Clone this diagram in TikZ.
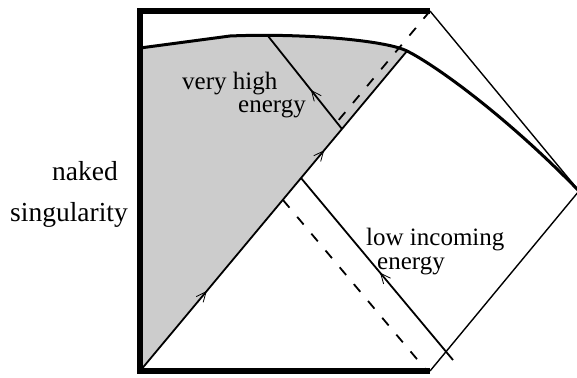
\documentclass[tikz,border=0pt]{standalone}
\usepackage{fontspec}
\setmainfont{Liberation Serif}
\usetikzlibrary{arrows.meta,decorations.markings}
\tikzset{
  frameline/.style={line width=5.5pt, line join=miter},
  edgeline/.style={line width=1.4pt},
  rayline/.style={line width=1.8pt},
  dashline/.style={line width=1.8pt, dash pattern=on 10pt off 12pt},
  curveline/.style={line width=3pt},
  barb/.style={line width=0.8pt},
  lbl/.style={font=\fontsize{25}{27}\selectfont, anchor=base west, inner sep=0pt},
  biglbl/.style={font=\fontsize{27.5}{29}\selectfont, anchor=base west, inner sep=0pt},
}
\begin{document}
\begin{tikzpicture}[x=1pt,y=-1pt]
\useasboundingbox (0,0) rectangle (577,377);
% key points
\coordinate (BL) at (140,371);
\coordinate (TL) at (140,11);
\coordinate (TR) at (430,11);
\coordinate (BR) at (430,371);
\coordinate (R) at (579,191);
\coordinate (D) at (407,51);
\coordinate (C0) at (140,48);
\coordinate (C1) at (230,36);
\coordinate (V1) at (342,129);
\coordinate (V2) at (268,36);
\coordinate (L1) at (301,178);
\coordinate (L2) at (453,360);
\coordinate (DA1) at (337,122);
\coordinate (DB1) at (283,200);
\coordinate (DB2) at (427,371);
% shaded region
\fill[black!20] (BL) -- (D) .. controls (385,40) and (300,33) .. (C1) -- (C0) -- cycle;
% thin outer lines
\draw[edgeline] (TR) -- (R) -- (BR);
% dashed lines
\draw[dashline] (TR) -- (DA1);
\draw[dashline] (DB1) -- (DB2);
% main diagonal
\draw[rayline, postaction={decorate}, decoration={markings,
  mark=at position 0.25 with {\arrow[barb]{Straight Barb[length=10pt,width=9pt]}},
  mark=at position 0.69 with {\arrow[barb]{Straight Barb[length=10pt,width=9pt]}}}]
  (BL) -- (D);
% very high energy ray
\draw[rayline, postaction={decorate}, decoration={markings,
  mark=at position 0.42 with {\arrow[barb]{Straight Barb[length=10pt,width=9pt]}}}]
  (V1) -- (V2);
% low incoming energy ray
\draw[rayline, postaction={decorate}, decoration={markings,
  mark=at position 0.48 with {\arrow[barb]{Straight Barb[length=10pt,width=9pt]}}}]
  (L2) -- (L1);
% thick curve
\draw[curveline] (C0) -- (C1) .. controls (300,33) and (385,40) .. (D)
  .. controls (435,65) and (505,115) .. (R);
% thick frame
\draw[frameline] (TR) -- (TL) -- (BL) -- (BR);
% labels
\node[biglbl] (nk) at (52,180) {naked};
\node[biglbl] (sg) at (10,221) {singularity};
\node[lbl] (vh) at (182,90) {very high};
\node[lbl] (ve) at (238,112) {energy};
\node[lbl] (li) at (366,245) {low incoming};
\node[lbl] (le) at (377,269) {energy};
\end{tikzpicture}
\end{document}
